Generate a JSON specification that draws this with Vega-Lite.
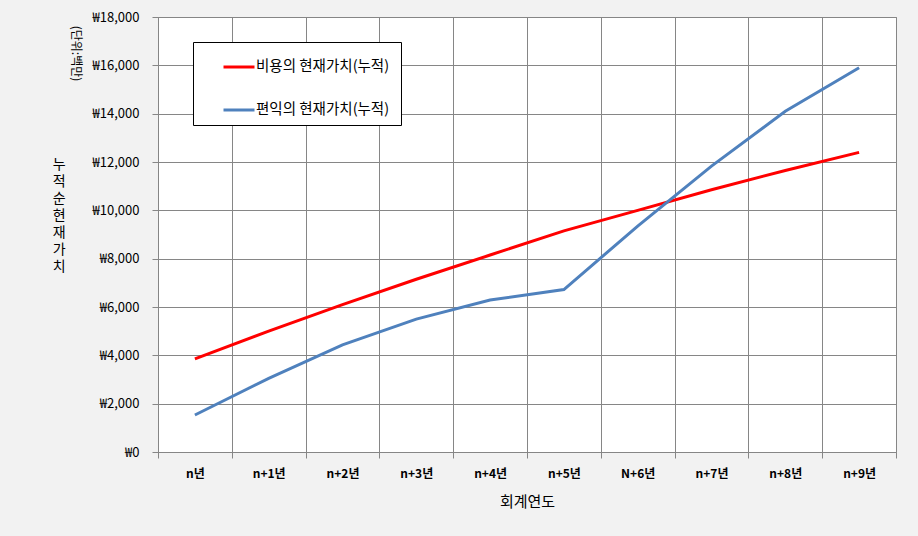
{
  "$schema": "https://vega.github.io/schema/vega-lite/v6.json",
  "autosize": "none",
  "width": 738,
  "height": 435,
  "padding": {"left": 158, "top": 17, "right": 22, "bottom": 84},
  "background": "#f2f2f2",
  "title": {
    "text": ["누", "적", "순", "현", "재", "가", "치"],
    "orient": "left",
    "angle": 0,
    "anchor": "middle",
    "align": "center",
    "baseline": "middle",
    "fontSize": 14,
    "fontWeight": "normal",
    "lineHeight": 17,
    "font": "Noto Sans CJK KR",
    "color": "#000000",
    "offset": 10,
    "dx": 13,
    "dy": -70
  },
  "config": {
    "view": {"fill": "#ffffff", "stroke": "#868686", "strokeWidth": 1},
    "font": "Noto Sans CJK KR"
  },
  "data": {
    "values": [
      {"year": "n년", "series": "비용의 현재가치(누적)", "value": 3850},
      {"year": "n+1년", "series": "비용의 현재가치(누적)", "value": 5000},
      {"year": "n+2년", "series": "비용의 현재가치(누적)", "value": 6100},
      {"year": "n+3년", "series": "비용의 현재가치(누적)", "value": 7150},
      {"year": "n+4년", "series": "비용의 현재가치(누적)", "value": 8150},
      {"year": "n+5년", "series": "비용의 현재가치(누적)", "value": 9150},
      {"year": "N+6년", "series": "비용의 현재가치(누적)", "value": 10000},
      {"year": "n+7년", "series": "비용의 현재가치(누적)", "value": 10850},
      {"year": "n+8년", "series": "비용의 현재가치(누적)", "value": 11650},
      {"year": "n+9년", "series": "비용의 현재가치(누적)", "value": 12400},
      {"year": "n년", "series": "편익의 현재가치(누적)", "value": 1530},
      {"year": "n+1년", "series": "편익의 현재가치(누적)", "value": 3050},
      {"year": "n+2년", "series": "편익의 현재가치(누적)", "value": 4430},
      {"year": "n+3년", "series": "편익의 현재가치(누적)", "value": 5500},
      {"year": "n+4년", "series": "편익의 현재가치(누적)", "value": 6290},
      {"year": "n+5년", "series": "편익의 현재가치(누적)", "value": 6720},
      {"year": "N+6년", "series": "편익의 현재가치(누적)", "value": 9350},
      {"year": "n+7년", "series": "편익의 현재가치(누적)", "value": 11830},
      {"year": "n+8년", "series": "편익의 현재가치(누적)", "value": 14100},
      {"year": "n+9년", "series": "편익의 현재가치(누적)", "value": 15900}
    ]
  },
  "mark": {"type": "line", "strokeWidth": 3, "interpolate": "linear"},
  "encoding": {
    "x": {
      "field": "year",
      "type": "nominal",
      "sort": null,
      "scale": {"paddingInner": 0, "paddingOuter": 0},
      "axis": {
        "title": "회계연도",
        "titleFontSize": 15,
        "titleFontWeight": "normal",
        "titleColor": "#000000",
        "titlePadding": 15,
        "labelAngle": 0,
        "labelFontSize": 12,
        "labelFontWeight": "bold",
        "labelColor": "#000000",
        "labelPadding": 10,
        "tickBand": "extent",
        "grid": true,
        "gridColor": "#868686",
        "gridOpacity": 1,
        "domainColor": "#868686",
        "tickColor": "#868686",
        "tickSize": 6
      }
    },
    "y": {
      "field": "value",
      "type": "quantitative",
      "scale": {"domain": [0, 18000], "nice": false},
      "axis": {
        "values": [0, 2000, 4000, 6000, 8000, 10000, 12000, 14000, 16000, 18000],
        "labelExpr": "'₩' + format(datum.value, ',')",
        "labelFontSize": 13,
        "labelColor": "#000000",
        "labelPadding": 13,
        "title": "(단위:백만)",
        "titleAngle": 90,
        "titleFontSize": 12,
        "titleFontWeight": "normal",
        "titleColor": "#000000",
        "titleX": -83,
        "titleY": 36,
        "titleAlign": "center",
        "titleBaseline": "middle",
        "grid": true,
        "gridColor": "#868686",
        "gridOpacity": 1,
        "domainColor": "#868686",
        "tickColor": "#868686",
        "tickSize": 6
      }
    },
    "color": {
      "field": "series",
      "type": "nominal",
      "scale": {
        "domain": ["비용의 현재가치(누적)", "편익의 현재가치(누적)"],
        "range": ["#ff0000", "#4f81bd"]
      },
      "legend": {
        "title": null,
        "orient": "none",
        "legendX": 35,
        "legendY": 25,
        "direction": "vertical",
        "fillColor": "#ffffff",
        "strokeColor": "#000000",
        "padding": 8,
        "symbolType": "stroke",
        "symbolStrokeWidth": 3,
        "symbolSize": 961,
        "symbolOffset": 21,
        "labelExpr": "replace(datum.label, ' ', '  ') + '     '",
        "labelFontSize": 14.5,
        "labelColor": "#000000",
        "labelOffset": 0,
        "rowPadding": 19
      }
    }
  }
}
